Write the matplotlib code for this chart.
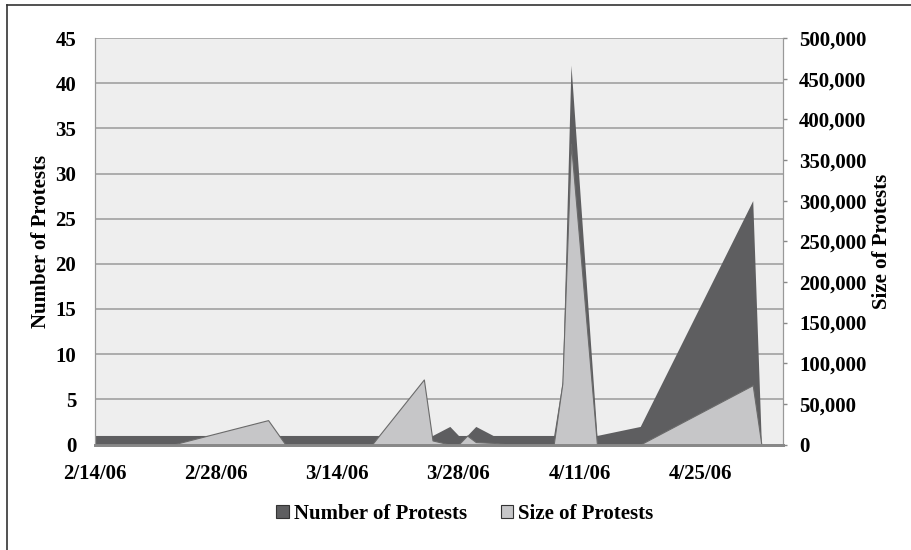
import matplotlib.pyplot as plt
import matplotlib.ticker as mticker
from matplotlib.patches import Patch
from matplotlib.lines import Line2D

# days after 2/14/06
days = [0, 9, 20, 22, 32, 38, 39, 41, 42, 43, 44, 46, 48, 53, 54, 55, 58, 63, 76, 77]
number_protests = [1, 1, 1, 1, 1, 1, 1, 2, 1, 1, 2, 1, 1, 1, 7, 42, 1, 2, 27, 0]
size_protests = [0, 0, 30000, 0, 0, 80000, 5000, 0, 0, 11000, 3000, 2000, 0, 0, 75000, 370000, 0, 0, 73000, 0]

tick_days = [0, 14, 28, 42, 56, 70]
tick_labels = ['2/14/06', '2/28/06', '3/14/06', '3/28/06', '4/11/06', '4/25/06']

plt.rcParams['font.family'] = ['Liberation Serif', 'DejaVu Serif']
plt.rcParams['font.weight'] = 'bold'
plt.rcParams['axes.labelweight'] = 'bold'
plt.rcParams['font.size'] = 15

dark = '#5e5e60'
light = '#c6c6c8'

W, H = 911, 550
fig = plt.figure(figsize=(W / 100, H / 100), dpi=100)
ax = fig.add_axes([95 / W, 1 - 444.5 / H, (783 - 95) / W, (444.5 - 38) / H])
ax2 = ax.twinx()

ax.set_facecolor('#eeeeee')
ax.fill_between(days, number_protests, color=dark, lw=0, zorder=2)
ax2.fill_between(days, size_protests, facecolor=light, edgecolor='#6a6a6a', lw=0.8)

ax.set_xlim(0, 79.5)
ax.set_ylim(0, 45)
ax2.set_ylim(0, 500000)
ax.set_yticks(range(0, 46, 5))
ax2.set_yticks(range(0, 500001, 50000))
ax2.yaxis.set_major_formatter(mticker.FuncFormatter(lambda v, p: f'{int(v):,}'))

ax.set_xticks(tick_days)
ax.set_xticklabels(tick_labels)
ax.tick_params(axis='x', length=0, pad=14)
ax.tick_params(axis='y', length=0, pad=13.5)
ax2.tick_params(axis='y', length=3, width=1, color='#888888', pad=8.5)

ax.yaxis.grid(True, color='#a0a0a0', lw=1.2)
ax.set_axisbelow(True)

for a in (ax, ax2):
    a.spines['top'].set_visible(False)
    a.spines['left'].set_color('#999999')
    a.spines['right'].set_color('#999999')
    a.spines['bottom'].set_color('#888888')
    a.spines['bottom'].set_linewidth(2)

ax.set_ylabel('Number of Protests', labelpad=3.5)
ax2.set_ylabel('Size of Protests', labelpad=4)

handles = [Patch(facecolor=dark, edgecolor='#333333', lw=0.8),
           Patch(facecolor=light, edgecolor='#333333', lw=0.8)]
fig.legend(handles, ['Number of Protests', 'Size of Protests'], ncol=2,
           loc='center', bbox_to_anchor=(465 / W, 1 - 514 / H), frameon=False,
           handlelength=0.6, handleheight=0.6, handletextpad=0.25,
           columnspacing=1.6)

# outer chart border (top and left visible)
fig.add_artist(Line2D([7 / W, 1], [1 - 5 / H, 1 - 5 / H], color='#333333', lw=1.2))
fig.add_artist(Line2D([7 / W, 7 / W], [0, 1 - 5 / H], color='#333333', lw=1.2))

fig.savefig('out.png', dpi=100)
